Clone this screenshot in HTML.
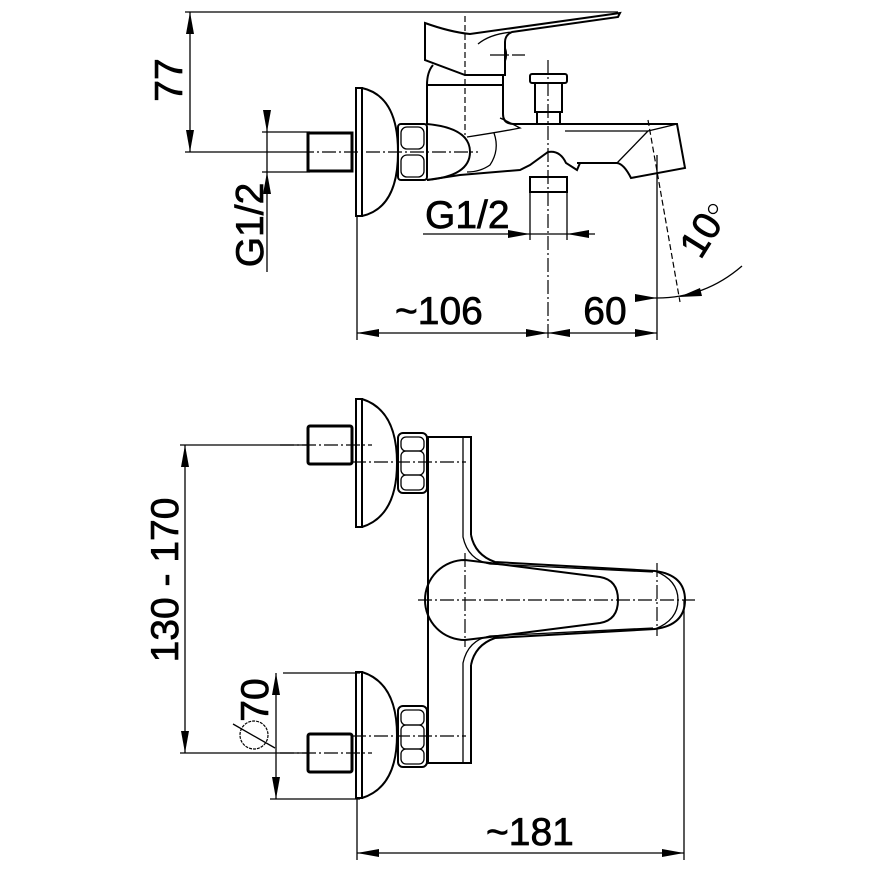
<!DOCTYPE html>
<html><head><meta charset="utf-8"><style>
html,body{margin:0;padding:0;background:#fff}
svg{display:block}
text{font-family:"Liberation Sans",Arial,sans-serif;font-size:39px;fill:#000;stroke:#000;stroke-width:0.7}
.t{stroke:#000;stroke-width:1.3;fill:none}
.m{stroke:#000;stroke-width:2;fill:none}
.k{stroke:#000;stroke-width:3;fill:none}
.c{stroke:#000;stroke-width:1.2;fill:none;stroke-dasharray:14 3 2 3}
.d{stroke:#000;stroke-width:1.2;fill:none;stroke-dasharray:6 3}
</style></head><body>
<svg width="870" height="870" viewBox="0 0 870 870" xmlns="http://www.w3.org/2000/svg">

<!-- ============ TOP VIEW ============ -->
<line class="t" x1="185" y1="12" x2="618" y2="12"/>
<line class="t" x1="185" y1="152" x2="300" y2="152"/>
<line class="t" x1="190" y1="12" x2="190" y2="152"/>
<polygon points="190,12 186,34 194,34"/>
<polygon points="190,152 186,130 194,130"/>
<text transform="translate(182,80) rotate(-90)" text-anchor="middle">77</text>
<line class="t" x1="262" y1="132" x2="310" y2="132"/>
<line class="t" x1="262" y1="172" x2="310" y2="172"/>
<line class="t" x1="267" y1="110" x2="267" y2="272"/>
<polygon points="267,132 263,110 271,110"/>
<polygon points="267,172 263,194 271,194"/>
<text transform="translate(263,225) rotate(-90)" text-anchor="middle">G1/2</text>

<rect class="k" x="308" y="133" width="44" height="38"/>
<line class="c" x1="300" y1="152" x2="478" y2="152"/>
<path class="m" d="M356,88 L362,88 L362,216 L356,216 Z"/>
<path class="m" d="M362,88 Q398,96 398,152 Q398,208 362,216"/>
<rect class="m" x="398" y="124" width="29" height="56" rx="3"/>
<rect class="t" x="401" y="127" width="23" height="22" rx="6"/>
<rect class="t" x="401" y="155" width="23" height="22" rx="6"/>
<!-- lever -->
<path class="m" d="M425,23 Q450,32 470,34 L620,13 L618,17 L512,32 Q505,35 505,42 L505,75 L465,75 L425,60 Z"/>
<path class="t" d="M478,44 Q490,34 512,32"/>
<line class="c" x1="490" y1="55" x2="525" y2="55"/>
<path class="t" d="M505,47 Q508,55 505,62"/>
<path class="m" d="M433,65 Q427,72 427,85 L427,124"/>
<line class="m" x1="427" y1="85" x2="503" y2="85"/>
<path class="m" d="M503,75 L503,114 Q503,124 514,124 L677,124 L685,168 L631,178 Q624,164 617,163 L577,163"/>
<path class="t" d="M565,131 L648,131 L617,163"/>
<path class="t" d="M648,131 Q665,127 677,124"/>
<path class="m" d="M427,124 Q470,128 470,152 Q470,176 427,180"/>
<path class="t" d="M467,137 Q500,132 520,128 Q505,120 500,118"/>
<path class="t" d="M494,133 Q500,150 490,165 Q480,172 467,172"/>
<path class="m" d="M427,180 L460,175 L520,170 L530,165 L548,152 Q560,150 566,163 L577,170 L580,163"/>
<rect class="m" x="530" y="177" width="37" height="15"/>
<rect class="m" x="530" y="74" width="37" height="9" rx="2"/>
<path class="m" d="M535,83 L535,112 L562,112 L562,83"/>
<path class="m" d="M537,112 L537,124 M560,112 L560,124"/>
<line class="d" x1="465" y1="16" x2="465" y2="135"/>
<line class="c" x1="548" y1="60" x2="548" y2="340"/>
<!-- G1/2 horizontal -->
<line class="t" x1="530" y1="177" x2="530" y2="240"/>
<line class="t" x1="567" y1="177" x2="567" y2="240"/>
<line class="t" x1="423" y1="234" x2="595" y2="234"/>
<polygon points="530,234 508,230 508,238"/>
<polygon points="567,234 589,230 589,238"/>
<text x="425" y="228">G1/2</text>
<!-- 106 / 60 -->
<line class="t" x1="357" y1="216" x2="357" y2="340"/>
<line class="t" x1="657" y1="155" x2="657" y2="340"/>
<line class="t" x1="357" y1="333" x2="657" y2="333"/>
<polygon points="357,333 379,329 379,337"/>
<polygon points="548,333 526,329 526,337"/>
<polygon points="548,333 570,329 570,337"/>
<polygon points="657,333 635,329 635,337"/>
<text x="395" y="324">~106</text>
<text x="605" y="324" text-anchor="middle">60</text>
<!-- angle -->
<line class="d" x1="648" y1="120" x2="680" y2="302"/>
<path class="t" d="M657,298 Q705,298 742,266"/>
<line class="t" x1="635" y1="298" x2="657" y2="298"/>
<polygon points="657,298 635,294 635,302"/>
<polygon points="679,297 700,288 702,296"/>
<text transform="translate(712,242) rotate(-58)" text-anchor="middle">10</text>
<circle class="t" cx="713" cy="209" r="4.5"/>

<!-- ============ BOTTOM VIEW ============ -->
<rect class="k" x="308" y="426" width="44" height="38" rx="2"/>
<path class="m" d="M356,399 L362,399 L362,527 L356,527 Z"/>
<path class="m" d="M362,399 Q397,410 397,463 Q397,516 362,527"/>
<rect class="m" x="398" y="433" width="29" height="60" rx="5"/>
<rect class="t" x="401" y="437" width="23" height="14" rx="5"/>
<rect class="t" x="401" y="451" width="23" height="24" rx="5"/>
<rect class="t" x="401" y="475" width="23" height="15" rx="5"/>
<line class="c" x1="280" y1="445" x2="372" y2="445"/>
<line class="c" x1="352" y1="462" x2="466" y2="462"/>
<rect class="k" x="308" y="734" width="44" height="38" rx="2"/>
<path class="m" d="M356,672 L362,672 L362,798 L356,798 Z"/>
<path class="m" d="M362,672 Q397,683 397,735 Q397,787 362,798"/>
<rect class="m" x="398" y="706" width="29" height="61" rx="5"/>
<rect class="t" x="401" y="710" width="23" height="15" rx="5"/>
<rect class="t" x="401" y="725" width="23" height="24" rx="5"/>
<rect class="t" x="401" y="749" width="23" height="15" rx="5"/>
<line class="c" x1="280" y1="753" x2="372" y2="753"/>
<line class="c" x1="352" y1="736" x2="466" y2="736"/>
<!-- body -->
<path class="m" d="M471,535 L471,437 L428,437 L428,763 L471,763 L471,665"/>
<path class="m" d="M471,535 Q475,555 495,562 L655,571"/>
<path class="m" d="M471,665 Q475,645 495,638 L655,629"/>
<path class="t" d="M463,437 L463,537 Q468,560 490,564 L653,572"/>
<path class="t" d="M463,763 L463,663 Q468,640 490,636 L653,628"/>
<!-- lever -->
<path class="m" d="M465,560 A40,40 0 1 0 465,640 L490,637 L600,623 Q618,620 618,600 Q618,580 600,577 L490,563 Z"/>
<path class="m" d="M655,571 Q685,575 685,600 Q685,625 655,629"/>
<path class="t" d="M655,571 Q678,580 678,600 Q678,620 655,629"/>
<line class="c" x1="657" y1="563" x2="657" y2="636"/>
<line class="c" x1="465" y1="553" x2="465" y2="647"/>
<line class="c" x1="418" y1="600" x2="695" y2="600"/>
<!-- 130-170 -->
<line class="t" x1="180" y1="445" x2="308" y2="445"/>
<line class="t" x1="180" y1="753" x2="308" y2="753"/>
<line class="t" x1="185" y1="445" x2="185" y2="753"/>
<polygon points="185,445 181,467 189,467"/>
<polygon points="185,753 181,731 189,731"/>
<text transform="translate(178,580) rotate(-90)" text-anchor="middle">130 - 170</text>
<!-- ø70 -->
<line class="t" x1="283" y1="673" x2="360" y2="673"/>
<line class="t" x1="270" y1="799" x2="360" y2="799"/>
<line class="t" x1="276" y1="673" x2="276" y2="799"/>
<polygon points="276,673 272,695 280,695"/>
<polygon points="276,799 272,777 280,777"/>
<text transform="translate(268,700) rotate(-90)" text-anchor="middle">70</text>
<circle cx="254" cy="735" r="14" fill="none" stroke="#000" stroke-width="1.2" stroke-dasharray="3 1"/>
<line class="t" x1="233" y1="724" x2="275" y2="748"/>
<!-- 181 -->
<line class="t" x1="357" y1="799" x2="357" y2="860"/>
<line class="t" x1="684" y1="600" x2="684" y2="860"/>
<line class="t" x1="357" y1="853" x2="684" y2="853"/>
<polygon points="357,853 379,849 379,857"/>
<polygon points="684,853 662,849 662,857"/>
<text x="486" y="845">~181</text>
</svg>
</body></html>
